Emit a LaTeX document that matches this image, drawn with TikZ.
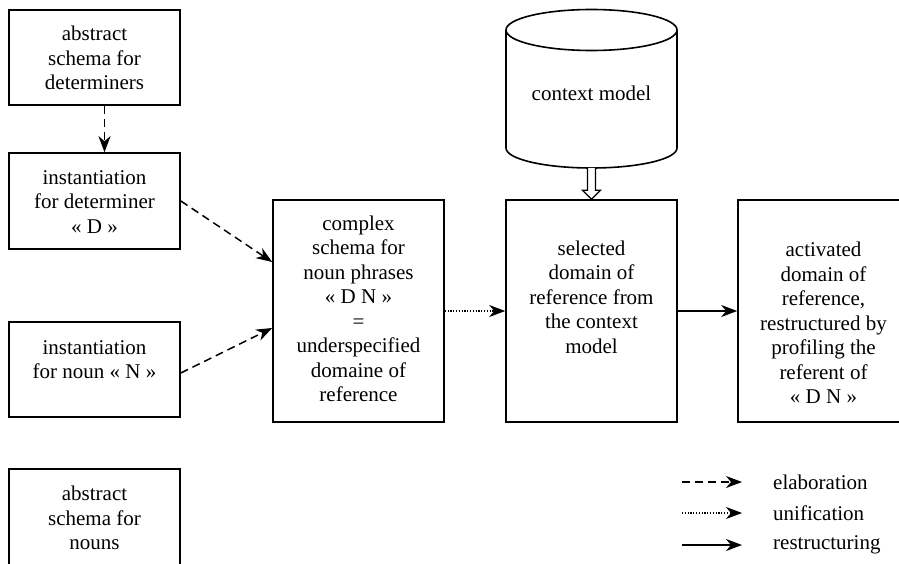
\documentclass[tikz,border=0pt]{standalone}
\usepackage{fontspec}
\setmainfont{LiberationSerif-Regular.ttf}[BoldFont=LiberationSerif-Bold.ttf,ItalicFont=LiberationSerif-Italic.ttf]
\usetikzlibrary{arrows.meta,calc}
\tikzset{
  boxnode/.style={draw,line width=1.6pt,minimum width=171pt,inner sep=0pt},
  txt/.style={align=center,inner sep=0pt,font=\fontsize{21}{24.5}\selectfont},
  legtxt/.style={anchor=west,inner sep=0pt,font=\fontsize{21}{24.5}\selectfont},
  tip/.style={-{Stealth[length=16pt,width=12pt,inset=5pt]}},
  elab/.style={tip,line width=1.5pt,dash pattern=on 8pt off 5pt},
  unif/.style={tip,line width=1.1pt,dash pattern=on 1.2pt off 1.6pt},
  restr/.style={tip,line width=1.6pt},
  dblarrow/.style={line width=1.2pt,fill=white}
}
\begin{document}
\begin{tikzpicture}[x=1pt,y=-1pt]
\useasboundingbox (0,0) rectangle (899,564);
\clip (0,0) rectangle (899,564);
% left column boxes
\node[boxnode,minimum height=95pt] (A) at (94.5,57.5) {};
\node[txt] (At) at (94.5,58) {abstract\\schema for\\determiners};
\node[boxnode,minimum height=96pt] (B) at (94.5,201) {};
\node[txt] (Bt) at (94.5,202) {instantiation\\for determiner\\« D »};
\node[boxnode,minimum height=95pt] (C) at (94.5,369.5) {};
\node[txt] (Ct) at (94.5,359.5) {instantiation\\for noun « N »};
\node[boxnode,minimum height=97pt] (D) at (94.5,517.5) {};
\node[txt] (Dt) at (94.5,518) {abstract\\schema for\\nouns};
% middle boxes
\node[boxnode,minimum height=222pt] (cx) at (358.5,311) {};
\node[txt] (cxt) at (358.5,309) {complex\\schema for\\noun phrases\\« D N »\\=\\underspecified\\domaine of\\reference};
\node[boxnode,minimum height=222pt] (sel) at (591.5,311) {};
\node[txt] (selt) at (591.5,297) {selected\\domain of\\reference from\\the context\\model};
\node[boxnode,minimum height=222pt] (act) at (823.5,311) {};
\node[txt] (actt) at (823.5,323) {activated\\domain of\\reference,\\restructured by\\profiling the\\referent of\\« D N »};
% cylinder
\draw[line width=1.6pt] (506,30) -- (506,148) arc[start angle=180,end angle=0,x radius=85.5,y radius=20] -- (677,30);
\draw[line width=1.6pt] (591.5,30) ellipse[x radius=85.5,y radius=20.5];
\node[txt] (cm) at (591.5,93) {context model};
\coordinate (cylb) at (591.5,168);
% hollow arrow cylinder -> selected
\draw[dblarrow] ($(cylb)+(-4,0)$) -- ($(sel.north)+(-4,-9)$) -- ($(sel.north)+(-9,-9)$) -- (sel.north) -- ($(sel.north)+(9,-9)$) -- ($(sel.north)+(4,-9)$) -- ($(cylb)+(4,0)$);
% connectors
\draw[elab] ($(A.south)+(10,0)$) -- ($(B.north)+(10,0)$);
\draw[elab] (B.east) -- ($(cx.west)+(0,-49)$);
\draw[elab] ($(C.east)+(0,3.5)$) -- ($(cx.west)+(0,17)$);
\draw[unif] (cx.east) -- (sel.west);
\draw[restr] (sel.east) -- (act.west);
% legend
\coordinate (l1a) at (682,482); \coordinate (l1b) at (742,482);
\coordinate (l2a) at (682,513); \coordinate (l2b) at (742,513);
\coordinate (l3a) at (682,545); \coordinate (l3b) at (742,545);
\draw[elab] (l1a) -- (l1b);
\draw[unif] (l2a) -- (l2b);
\draw[restr] (l3a) -- (l3b);
\node[legtxt] (lg1) at (773,482) {elaboration};
\node[legtxt] (lg2) at (773,513) {unification};
\node[legtxt] (lg3) at (773,545) {restructuring};
\end{tikzpicture}
\end{document}
